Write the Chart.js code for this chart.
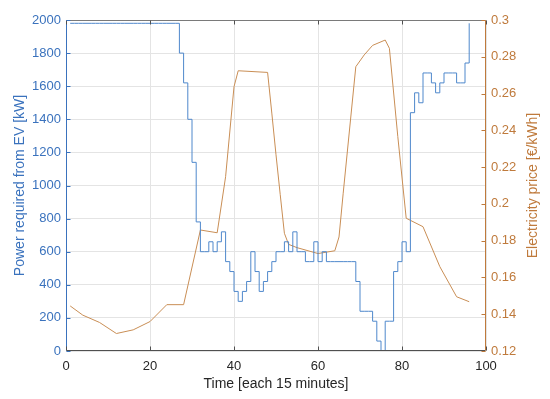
<!DOCTYPE html>
<html>
<head>
<meta charset="utf-8">
<script src="https://cdn.jsdelivr.net/npm/chart.js@4.4.1/dist/chart.umd.min.js"></script>
<style>
  html, body { margin: 0; padding: 0; background: #fff; }
</style>
</head>
<body>
<canvas id="myChart" width="550" height="399"></canvas>
<script>
// power required from EV [kW], one value per 15 minute slot (1..96), drawn as stairs
const powerKW = [
    1980, 1980, 1980, 1980, 1980, 1980, 1980, 1980, 1980, 1980,
    1980, 1980, 1980, 1980, 1980, 1980, 1980, 1980, 1980, 1980,
    1980, 1980, 1980, 1980, 1980, 1980, 1800, 1620, 1400, 1140,
    780, 600, 600, 660, 600, 660, 720, 540, 480, 360,
    300, 360, 420, 600, 480, 360, 420, 480, 540, 600,
    600, 660, 600, 720, 600, 600, 540, 540, 660, 540,
    600, 540, 540, 540, 540, 540, 540, 540, 420, 240,
    240, 240, 180, 60, 0, 180, 180, 480, 540, 660,
    600, 1440, 1560, 1500, 1680, 1680, 1620, 1560, 1620, 1680,
    1680, 1680, 1620, 1620, 1740, 1980
]

// electricity price [EUR/kWh], read at the corners of the curve
const priceX = [1, 4, 8, 12, 16, 20, 24, 28, 32, 36, 38, 40, 41, 48, 49, 50, 51, 52, 53, 55,
                60, 64, 65, 66, 69, 71, 73, 76, 77, 79, 81, 85, 89, 93, 96]
const priceEur = [0.1445, 0.1395, 0.1355, 0.1295, 0.1315, 0.136, 0.1452, 0.1452, 0.1858, 0.1843,
                  0.2148, 0.2637, 0.2724, 0.2715, 0.2494, 0.2267, 0.2052, 0.184, 0.178, 0.1762,
                  0.173, 0.1745, 0.182, 0.2058, 0.2746, 0.281, 0.2862, 0.2891, 0.2846, 0.2366,
                  0.1922, 0.1876, 0.1659, 0.1495, 0.1468]

const blue = '#3a72bd'
const blueLine = '#4f88cc'
const orange = '#bf7a3c'
const orangeLine = '#c98e55'
const gridColor = '#e4e4e4'
const fontFamily = '"Liberation Sans", Arial, Helvetica, sans-serif'

// MATLAB style frame: box, inward tick marks and the right hand label
const matlabBox = {
    id: 'matlabBox',
    afterDatasetsDraw(chart) {
        const { ctx, chartArea: a, scales } = chart
        const L = Math.round(a.left) + 0.5, R = Math.round(a.right) - 0.5
        const T = Math.round(a.top) + 0.5, B = Math.round(a.bottom) - 0.5
        function seg(x1, y1, x2, y2, c) {
            ctx.strokeStyle = c
            ctx.beginPath()
            ctx.moveTo(x1, y1)
            ctx.lineTo(x2, y2)
            ctx.stroke()
        }
        ctx.save()
        ctx.lineWidth = 1
        seg(L, T, R, T, '#7a7a7a')
        seg(L, B, R, B, '#505050')
        seg(L, T, L, B, blue)
        seg(R, T, R, B, orange)

        scales.x.ticks.forEach(t => {
            const x = Math.round(scales.x.getPixelForValue(t.value)) + 0.5
            seg(x, B, x, B - 4, '#505050')
            seg(x, T, x, T + 4, '#505050')
        })
        scales.y.ticks.forEach(t => {
            const y = Math.round(scales.y.getPixelForValue(t.value)) + 0.5
            seg(L, y, L + 4, y, blue)
        })
        scales.y1.ticks.forEach(t => {
            const y = Math.round(scales.y1.getPixelForValue(t.value)) + 0.5
            seg(R, y, R - 4, y, orange)
        })

        // right label reads bottom to top like MATLAB
        ctx.translate(533, (a.top + a.bottom) / 2)
        ctx.rotate(-Math.PI / 2)
        ctx.fillStyle = orange
        ctx.font = '14px ' + fontFamily
        ctx.textAlign = 'center'
        ctx.textBaseline = 'middle'
        ctx.fillText('Electricity price [€/kWh]', 0, 0)
        ctx.restore()
    }
}

var ctx = document.getElementById('myChart').getContext('2d')
var myChart = new Chart(ctx, {
    type: 'line',
    data: {
        datasets: [{
            label: 'Power required from EV',
            data: powerKW.map((v, i) => ({ x: i + 1, y: v })),
            yAxisID: 'y',
            stepped: true,
            borderColor: blueLine,
            borderWidth: 1,
            pointRadius: 0,
            fill: false
        },
        {
            label: 'Electricity price',
            data: priceX.map((x, i) => ({ x: x, y: priceEur[i] })),
            yAxisID: 'y1',
            borderColor: orangeLine,
            borderWidth: 1,
            pointRadius: 0,
            tension: 0,
            fill: false
        }]
    },
    options: {
        responsive: false,
        animation: false,
        events: [],
        layout: { padding: { top: 20 } },
        plugins: {
            legend: false,
            tooltip: { enabled: false }
        },
        scales: {
            x: {
                type: 'linear',
                min: 0,
                max: 100,
                ticks: {
                    stepSize: 20,
                    color: '#262626',
                    padding: 8,
                    maxRotation: 0,
                    font: { family: fontFamily, size: 13 }
                },
                grid: { color: gridColor, drawTicks: false },
                border: { display: false },
                title: {
                    display: true,
                    text: 'Time [each 15 minutes]',
                    color: '#262626',
                    padding: { top: 0, bottom: 6 },
                    font: { family: fontFamily, size: 14 }
                },
                afterFit: s => { s.height = 48 }
            },
            y: {
                position: 'left',
                min: 0,
                max: 2000,
                ticks: {
                    stepSize: 200,
                    color: blue,
                    padding: 5,
                    font: { family: fontFamily, size: 13 },
                    callback: v => String(v)
                },
                grid: { color: gridColor, drawTicks: false },
                border: { display: false },
                title: {
                    display: true,
                    text: 'Power required from EV [kW]',
                    color: blue,
                    padding: { top: 12, bottom: 0 },
                    font: { family: fontFamily, size: 14 }
                },
                afterFit: s => { s.width = 66 }
            },
            y1: {
                position: 'right',
                min: 0.12,
                max: 0.3,
                ticks: {
                    stepSize: 0.02,
                    color: orange,
                    padding: 5,
                    font: { family: fontFamily, size: 13 },
                    callback: v => String(+v.toFixed(2))
                },
                grid: { display: false, drawTicks: false },
                border: { display: false },
                afterFit: s => { s.width = 64 }
            }
        }
    },
    plugins: [matlabBox]
})
</script>
</body>
</html>
